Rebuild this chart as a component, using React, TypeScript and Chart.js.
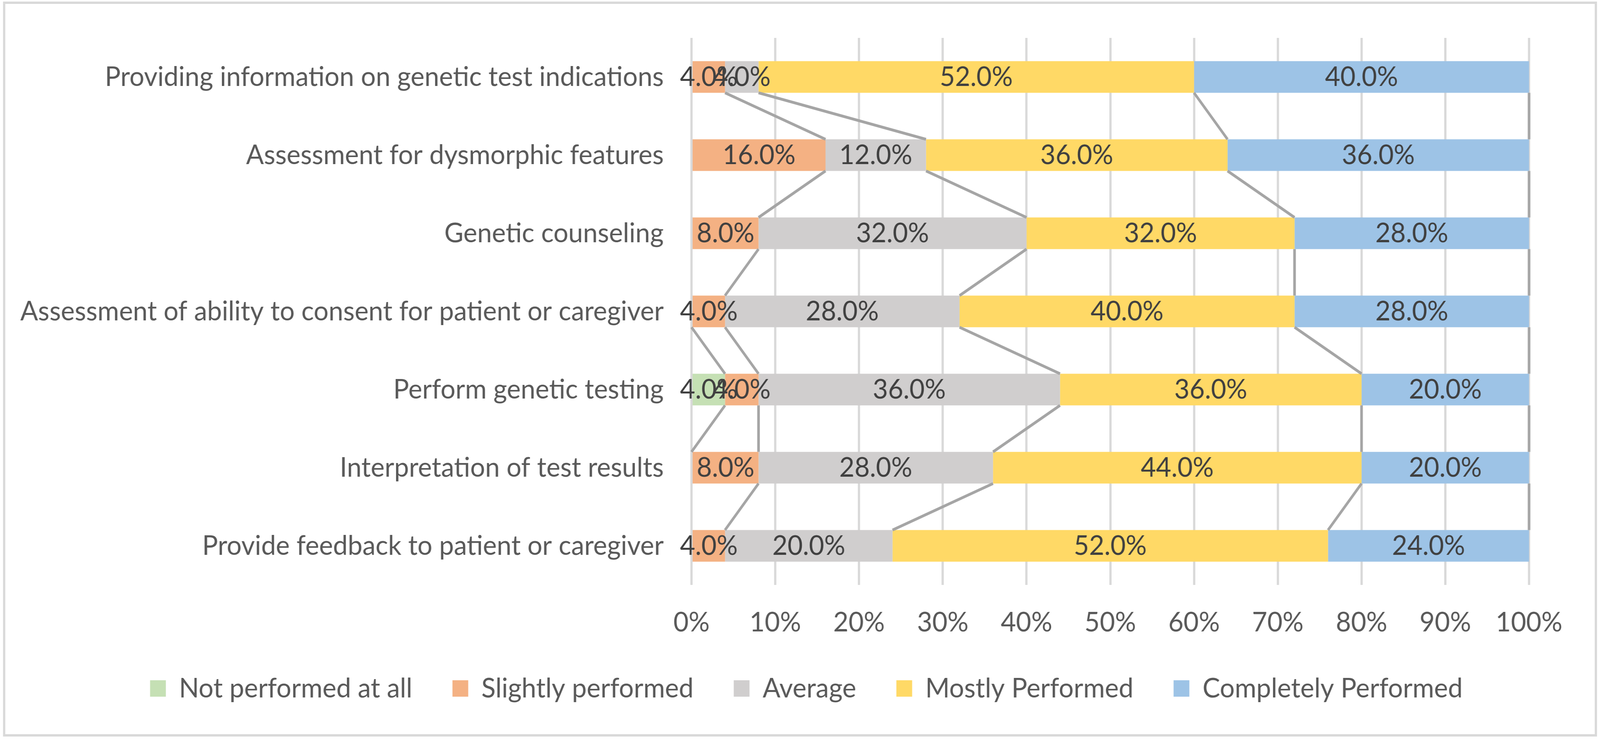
import React, { useEffect, useRef } from 'react';
import { Chart, registerables } from 'chart.js';

Chart.register(...registerables);

const categories = [
  'Providing information on genetic test indications',
  'Assessment for dysmorphic features',
  'Genetic counseling',
  'Assessment of ability to consent for patient or caregiver',
  'Perform genetic testing',
  'Interpretation of test results',
  'Provide feedback to patient or caregiver',
];

const seriesNames = [
  'Not performed at all',
  'Slightly performed',
  'Average',
  'Mostly Performed',
  'Completely Performed',
];

const notPerformed = [0, 0, 0, 0, 4, 0, 0];
const slightlyPerformed = [4, 16, 8, 4, 4, 8, 4];
const averagePerformed = [4, 12, 32, 28, 36, 28, 20];
const mostlyPerformed = [52, 36, 32, 40, 36, 44, 52];
const completelyPerformed = [40, 36, 28, 28, 20, 20, 24];

const seriesValues = [notPerformed, slightlyPerformed, averagePerformed, mostlyPerformed, completelyPerformed];
const seriesColors = ['#C5E0B4', '#F4B183', '#D0CECE', '#FFD966', '#9DC3E6'];

const W = 4262;
const H = 1899;
const FONT = 'Lato';
const FS = 70;
const LEGEND_PAD = 107;
const PAD = { left: 223, right: 189, top: 97, bottom: 92 };
const PLOT_LEFT = 1842;
const PLOT_BOTTOM = 1497;

const frame = {
  id: 'frame',
  beforeDraw(chart: any) {
    const ctx = chart.ctx;
    ctx.save();
    ctx.fillStyle = '#FFFFFF';
    ctx.fillRect(0, 0, chart.width, chart.height);
    ctx.strokeStyle = '#D9D9D9';
    ctx.lineWidth = 6;
    ctx.strokeRect(11, 7, chart.width - 22, chart.height - 24);
    ctx.restore();
  },
};

const overlays = {
  id: 'overlays',
  afterDatasetsDraw(chart: any) {
    const ctx = chart.ctx;
    const left = chart.chartArea.left;
    ctx.save();
    // series lines
    ctx.strokeStyle = '#A5A5A5';
    ctx.lineWidth = 7;
    chart.data.datasets.forEach((_ds: any, di: number) => {
      const meta = chart.getDatasetMeta(di);
      for (let i = 0; i < meta.data.length - 1; i++) {
        const a: any = meta.data[i];
        const b: any = meta.data[i + 1];
        if (Math.abs(a.x - left) < 0.5 && Math.abs(b.x - left) < 0.5) continue;
        ctx.beginPath();
        ctx.moveTo(a.x, a.y + a.height / 2);
        ctx.lineTo(b.x, b.y - b.height / 2);
        ctx.stroke();
      }
    });
    // data labels
    ctx.fillStyle = '#404040';
    ctx.font = `${FS}px ${FONT}`;
    ctx.textAlign = 'center';
    ctx.textBaseline = 'middle';
    chart.data.datasets.forEach((ds: any, di: number) => {
      const meta = chart.getDatasetMeta(di);
      meta.data.forEach((el: any, i: number) => {
        const v = ds.data[i];
        if (!v) return;
        const c = el.getCenterPoint();
        ctx.fillText(`${v.toFixed(1)}%`, c.x, c.y);
      });
    });
    ctx.restore();
  },
};

export default function App() {
  const ref = useRef<HTMLCanvasElement>(null);

  useEffect(() => {
    document.body.style.margin = '0';
    document.body.style.overflow = 'hidden';
    Chart.defaults.font.family = FONT;
    const legendHeight = FS + LEGEND_PAD + 10;
    const chart = new Chart(ref.current as HTMLCanvasElement, {
      type: 'bar',
      data: {
        labels: categories,
        datasets: seriesNames.map((name, i) => ({
          label: name,
          data: seriesValues[i],
          backgroundColor: seriesColors[i],
          borderWidth: 0,
          barPercentage: 0.405,
          categoryPercentage: 1,
        })),
      },
      options: {
        indexAxis: 'y',
        responsive: false,
        animation: false,
        devicePixelRatio: 1,
        layout: { padding: PAD },
        plugins: {
          tooltip: { enabled: false },
          legend: {
            position: 'bottom',
            labels: {
              color: '#595959',
              font: { size: FS, family: FONT },
              boxWidth: 42,
              boxHeight: 42,
              padding: LEGEND_PAD,
            },
          },
        },
        scales: {
          x: {
            stacked: true,
            min: 0,
            max: 100,
            ticks: {
              stepSize: 10,
              color: '#595959',
              font: { size: FS, family: FONT },
              padding: 54,
              callback: (v: any) => `${v}%`,
            },
            grid: { color: '#D9D9D9', lineWidth: 6, drawTicks: false },
            border: { display: false },
            afterFit: (s: any) => {
              s.height = H - PLOT_BOTTOM - PAD.bottom - legendHeight;
            },
          },
          y: {
            stacked: true,
            ticks: {
              color: '#595959',
              font: { size: FS, family: FONT },
              padding: 0,
              autoSkip: false,
            },
            grid: { display: false, drawTicks: true, tickLength: 74 },
            border: { display: false },
            afterFit: (s: any) => {
              s.width = PLOT_LEFT - PAD.left;
              s._computeLabelArea = () => undefined;
            },
          },
        },
      },
      plugins: [frame, overlays],
    } as any);
    return () => chart.destroy();
  }, []);

  return (
    <div style={{ width: '100vw', height: '100vh', overflow: 'hidden' }}>
      <canvas ref={ref} width={W} height={H} style={{ display: 'block', width: '100vw', height: '100vh' }} />
    </div>
  );
}
